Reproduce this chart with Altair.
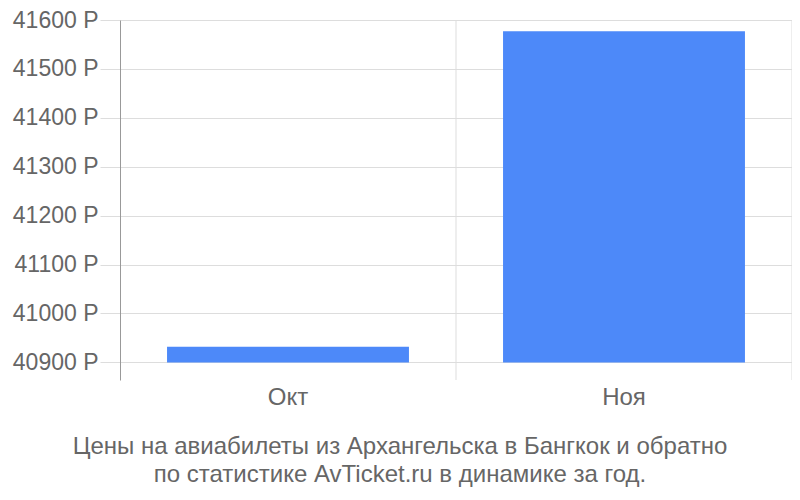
import altair as alt
import pandas as pd

months = ["Окт", "Ноя"]
prices = [40932, 41577]
base_value = 40900
tick_values = [40900, 41000, 41100, 41200, 41300, 41400, 41500, 41600]
title_lines = ["Цены на авиабилеты из Архангельска в Бангкок и обратно",
               "по статистике AvTicket.ru в динамике за год."]

df = pd.DataFrame({"month": months, "price": prices})

FONT = "Liberation Sans"
GRAY = "#666666"
GRID = "#dddddd"

xscale = alt.Scale(domain=months, paddingInner=0, paddingOuter=0)
yscale = alt.Scale(domain=[40864, 41600], nice=False, zero=False)

bars = alt.Chart(df).mark_bar(color="#4d89f9", width={"band": 0.72}).encode(
    x=alt.X("month:N", scale=xscale, sort=months, title=None,
            axis=alt.Axis(domain=False, ticks=False, grid=False,
                          labelFont=FONT, labelFontSize=24, labelAlign="center",
                          labelColor=GRAY, labelPadding=5, labelAngle=0,
                          bandPosition=0.5)),
    y=alt.Y("price:Q", scale=yscale, title=None,
            axis=alt.Axis(values=tick_values, format="d",
                          labelExpr="datum.label + ' Р'",
                          domainColor="#999999", tickColor=GRID, tickSize=20,
                          gridColor=GRID, labelFont=FONT, labelFontSize=23,
                          labelColor=GRAY, labelPadding=2)),
    y2=alt.datum(base_value),
)

band_edges = alt.Chart(df).mark_rule(color=GRID).encode(
    x=alt.X("month:N", bandPosition=1, scale=xscale, sort=months),
)

chart = alt.layer(bars, band_edges).properties(
    width=672, height=360,
    autosize=alt.AutoSizeParams(type="none"),
    padding={"left": 112, "top": 12, "right": 0, "bottom": 112},
    title=alt.TitleParams(text=title_lines, orient="bottom", font=FONT,
                          fontSize=24, fontWeight="normal", color=GRAY,
                          offset=26, dx=-56, lineHeight=28, anchor="middle"),
).configure_view(stroke=None)

chart.save("out.html", embed_options={"renderer": "svg", "actions": False})
